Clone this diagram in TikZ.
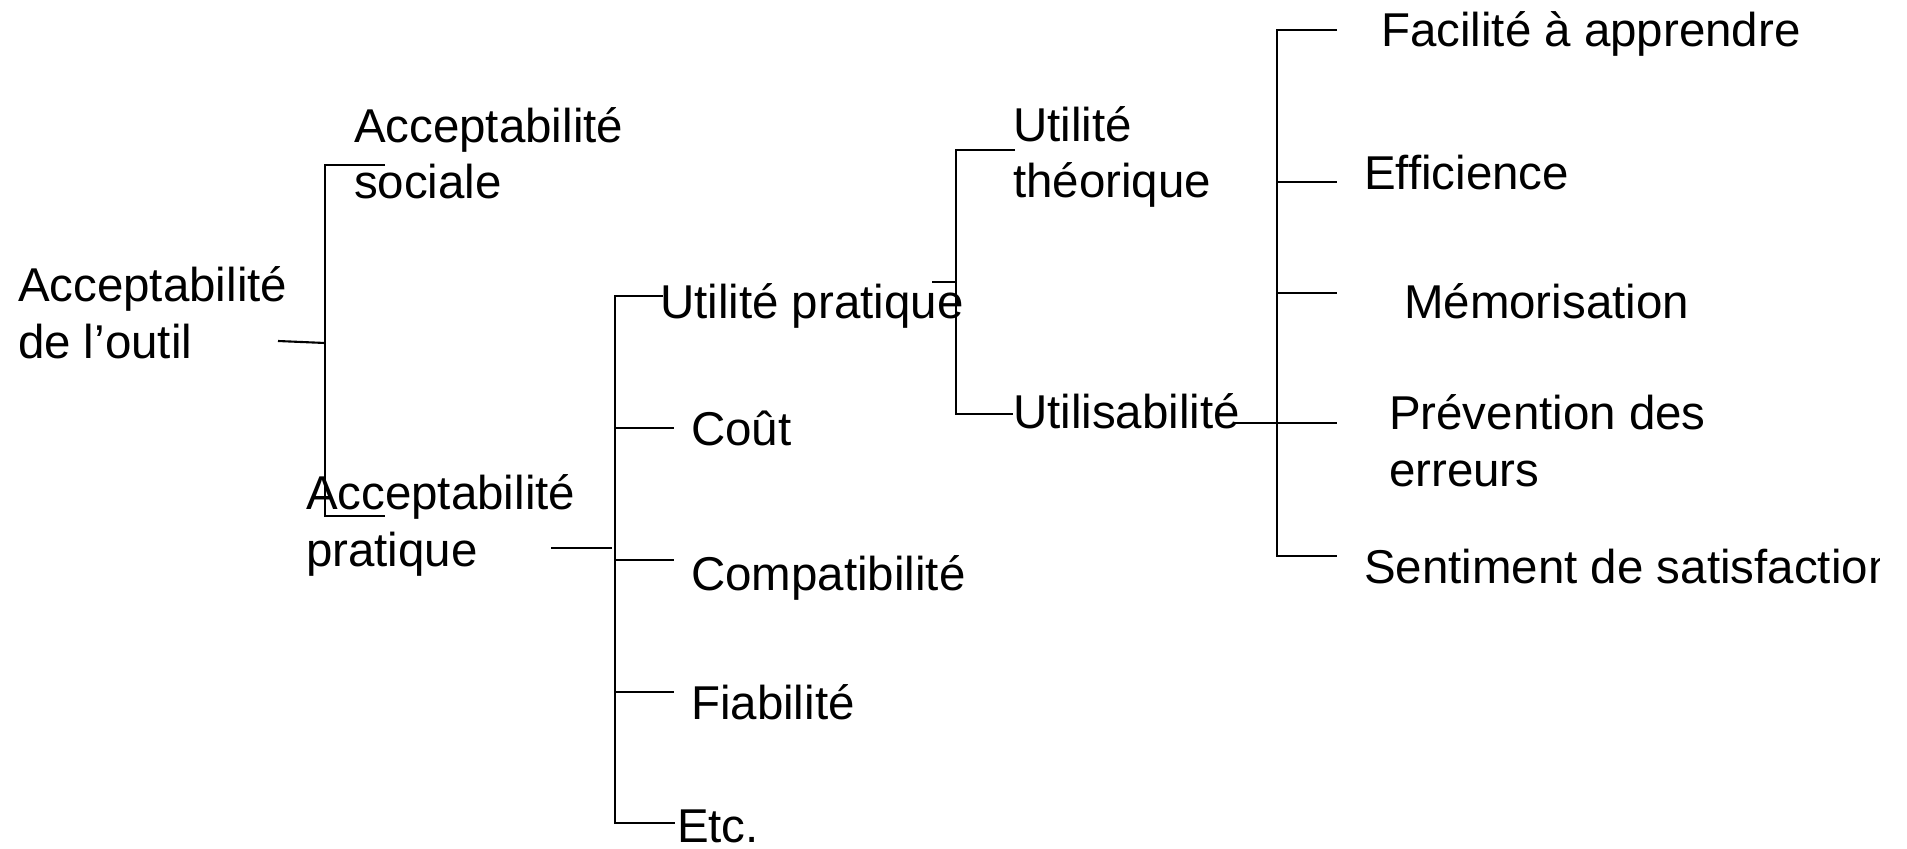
\documentclass[tikz,border=0pt]{standalone}
\usepackage{fontspec}
\setmainfont{Liberation Sans}

\begin{document}
\begin{tikzpicture}[x=0.01cm, y=-0.01cm, line width=0.6pt,
    item/.style = {inner sep=0pt, anchor=base west, align=left,
                   font=\fontsize{13.5}{16.2}\selectfont}]
    \useasboundingbox (0,0) rectangle (1907,849);

    % labels (base = baseline of the last line)
    \node[item] (outil) at (17,358) {Acceptabilité\\de l’outil};

    \node[item] (sociale) at (353,199) {Acceptabilité\\sociale};
    \node[item] (pratique) at (305,566) {Acceptabilité\\pratique};

    \node[item] (utilpra) at (659,318) {Utilité pratique};
    \node[item] (cout) at (690,445) {Coût};
    \node[item] (compat) at (690,590) {Compatibilité};
    \node[item] (fiab) at (690,719) {Fiabilité};
    \node[item] (etc) at (676,842) {Etc.};

    \node[item] (theorique) at (1012,198) {Utilité\\théorique};
    \node[item] (utilis) at (1012,428) {Utilisabilité};

    \node[item] (facile) at (1380,47) {Facilité à apprendre};
    \node[item] (effic) at (1363,190) {Efficience};
    \node[item] (memo) at (1403,318) {Mémorisation};
    \node[item] (erreurs) at (1388,486) {Prévention des\\erreurs};
    \begin{scope}
        \clip (0,0) rectangle (1879,849);
        \node[item] (satisf) at (1363,583) {Sentiment de satisfaction};
    \end{scope}

    % acceptabilite de l'outil
    \coordinate (outil-out) at (278,341);
    \coordinate (v1) at (325,343);
    \coordinate (sociale-in) at (385,165);
    \coordinate (pratique-in) at (385,516);
    \draw (outil-out) -- (v1);
    \draw (sociale-in) -| (v1) |- (pratique-in);

    % acceptabilite pratique
    \coordinate (pratique-out) at (551,548);
    \coordinate (v2) at (615,0);
    \coordinate (utilpra-in) at (663,296);
    \coordinate (cout-in) at (674,428);
    \coordinate (compat-in) at (674,560);
    \coordinate (fiab-in) at (674,692);
    \coordinate (etc-in) at (675,823);
    \draw (pratique-out) -- ++(61,0);
    \draw (utilpra-in) -| (etc-in -| v2) -- (etc-in);
    \foreach \n in {cout, compat, fiab}
        \draw (\n-in -| v2) -- (\n-in);

    % utilite pratique
    \coordinate (utilpra-out) at (932,282);
    \coordinate (v3) at (956,0);
    \coordinate (theorique-in) at (1015,150);
    \coordinate (utilis-in) at (1013,414);
    \draw (utilpra-out) -- (utilpra-out -| v3);
    \draw (theorique-in) -| (utilis-in -| v3) -- (utilis-in);

    % utilisabilite
    \coordinate (utilis-out) at (1235,423);
    \coordinate (v4) at (1277,0);
    \coordinate (facile-in) at (1337,30);
    \coordinate (effic-in) at (1337,182);
    \coordinate (memo-in) at (1337,293);
    \coordinate (erreurs-in) at (1337,423);
    \coordinate (satisf-in) at (1337,556);
    \draw (utilis-out) -- (erreurs-in);
    \draw (facile-in) -| (satisf-in -| v4) -- (satisf-in);
    \foreach \n in {effic, memo}
        \draw (\n-in -| v4) -- (\n-in);
\end{tikzpicture}
\end{document}
